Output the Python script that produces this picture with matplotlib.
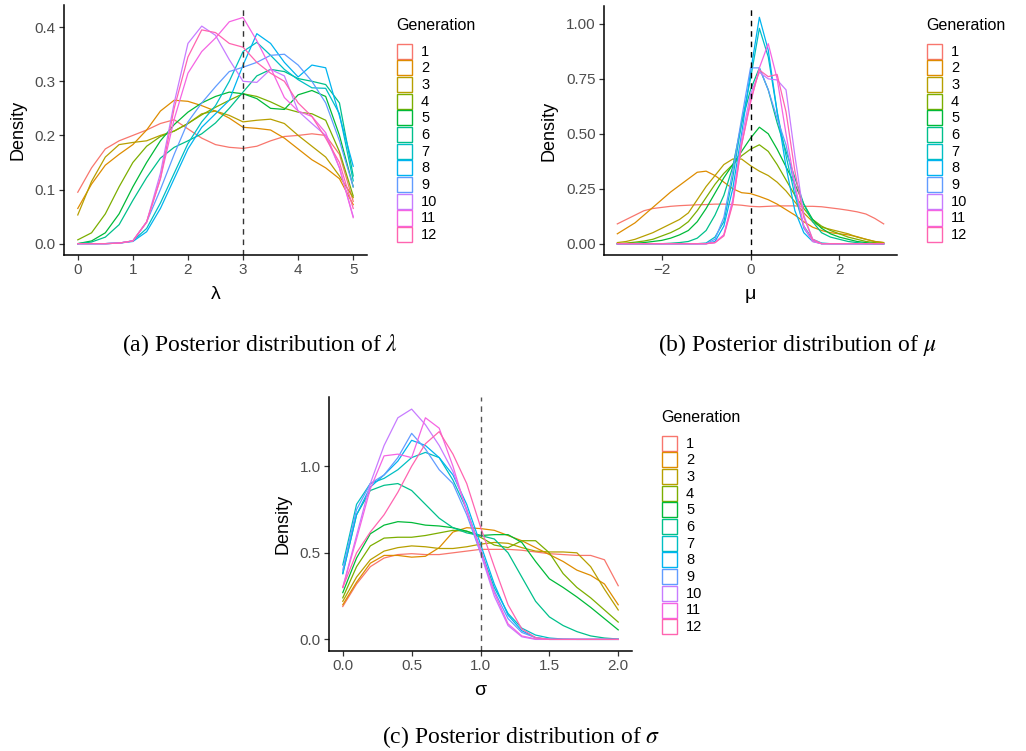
import matplotlib.pyplot as plt
import matplotlib.patches as mpatches
import numpy as np

plt.rcParams['font.family'] = ['Liberation Sans', 'DejaVu Sans']
plt.rcParams['mathtext.fontset'] = 'stix'

### generations 1..12, ggplot default hue palette
gen_labels = [str(i) for i in range(1, 13)]
gen_colors = ['#F8766D', '#DE8C00', '#B79F00', '#7CAE00', '#00BA38', '#00C08B',
              '#00BFC4', '#00B4F0', '#619CFF', '#C77CFF', '#F564E3', '#FF64B0']

### (a) lambda, grid 0..5 step 0.25
lam_x = np.linspace(0, 5, 21)
lam_dens = [
    [.095, .14, .175, .19, .2, .21, .222, .229, .212, .195, .183, .178, .176, .18, .19, .198, .2, .203, .2, .165, .078],
    [.065, .11, .145, .165, .183, .21, .245, .265, .263, .255, .245, .232, .215, .213, .21, .195, .175, .155, .14, .12, .072],
    [.053, .115, .16, .183, .187, .19, .2, .208, .222, .24, .245, .237, .225, .228, .23, .222, .2, .18, .16, .125, .085],
    [.007, .02, .055, .105, .15, .18, .198, .208, .222, .238, .252, .265, .277, .272, .262, .25, .243, .24, .228, .17, .088],
    [0, .005, .02, .055, .105, .15, .19, .22, .243, .26, .272, .28, .277, .268, .25, .248, .275, .283, .272, .2, .105],
    [0, .003, .012, .035, .08, .122, .158, .178, .19, .203, .223, .25, .28, .31, .322, .318, .305, .3, .294, .26, .125],
    [0, 0, 0, .001, .005, .028, .075, .13, .185, .225, .255, .3, .355, .372, .348, .322, .303, .288, .287, .24, .116],
    [0, 0, 0, .001, .004, .022, .065, .12, .175, .215, .24, .265, .33, .388, .37, .335, .308, .33, .325, .236, .143],
    [0, 0, 0, .001, .005, .04, .1, .165, .225, .26, .29, .318, .326, .335, .348, .35, .33, .3, .26, .19, .105],
    [0, 0, 0, .001, .005, .04, .13, .26, .37, .402, .385, .34, .3, .298, .322, .31, .245, .222, .2, .14, .05],
    [0, 0, 0, .001, .005, .04, .12, .23, .315, .355, .38, .41, .418, .375, .325, .27, .245, .235, .205, .14, .048],
    [0, 0, 0, .001, .005, .04, .12, .25, .345, .395, .39, .37, .363, .335, .315, .3, .26, .235, .195, .15, .065],
]

### (b) mu, grid -3..3 step 0.2
mu_x = np.linspace(-3, 3, 31)
mu_dens = [
    [.09, .11, .13, .15, .16, .165, .17, .173, .175, .177, .178, .18, .18, .178, .175, .17, .168, .17, .172, .172, .172, .17, .17, .168, .163, .158, .152, .145, .135, .115, .09],
    [.045, .07, .095, .13, .165, .2, .235, .265, .295, .325, .33, .31, .28, .25, .232, .228, .215, .2, .18, .155, .13, .1, .075, .06, .05, .045, .04, .032, .02, .01, .005],
    [.005, .01, .02, .035, .05, .07, .09, .11, .14, .2, .26, .31, .36, .385, .385, .355, .33, .31, .28, .24, .19, .14, .1, .075, .065, .055, .045, .03, .02, .01, .005],
    [0, .003, .007, .012, .02, .035, .05, .07, .1, .15, .21, .27, .32, .36, .4, .43, .45, .42, .36, .29, .22, .16, .11, .08, .06, .045, .03, .02, .01, .005, 0],
    [0, 0, .002, .005, .01, .015, .025, .04, .06, .1, .16, .23, .3, .36, .42, .48, .53, .5, .43, .35, .27, .18, .11, .07, .045, .03, .02, .01, .005, 0, 0],
    [0, 0, 0, 0, 0, 0, .002, .005, .01, .025, .06, .13, .22, .35, .55, .7, .8, .7, .55, .42, .3, .18, .1, .05, .03, .02, .01, .005, 0, 0, 0],
    [0, 0, 0, 0, 0, 0, 0, 0, 0, 0, .003, .03, .1, .3, .55, .75, .98, .85, .6, .4, .22, .08, .02, .003, 0, 0, 0, 0, 0, 0, 0],
    [0, 0, 0, 0, 0, 0, 0, 0, 0, 0, 0, .01, .08, .25, .5, .78, 1.03, .88, .6, .35, .15, .05, .01, 0, 0, 0, 0, 0, 0, 0, 0],
    [0, 0, 0, 0, 0, 0, 0, 0, 0, 0, 0, .02, .12, .33, .57, .8, .8, .7, .57, .45, .25, .07, .015, 0, 0, 0, 0, 0, 0, 0, 0],
    [0, 0, 0, 0, 0, 0, 0, 0, 0, 0, 0, .005, .04, .2, .48, .68, .78, .75, .745, .7, .4, .13, .02, 0, 0, 0, 0, 0, 0, 0, 0],
    [0, 0, 0, 0, 0, 0, 0, 0, 0, 0, 0, .005, .04, .19, .45, .64, .8, .91, .75, .5, .27, .08, .01, 0, 0, 0, 0, 0, 0, 0, 0],
    [0, 0, 0, 0, 0, 0, 0, 0, 0, 0, 0, .005, .035, .18, .45, .65, .79, .76, .77, .6, .33, .12, .02, 0, 0, 0, 0, 0, 0, 0, 0],
]

### (c) sigma, grid 0..2 step 0.1
sig_x = np.linspace(0, 2, 21)
sig_dens = [
    [.19, .32, .42, .47, .49, .495, .49, .49, .5, .51, .52, .52, .52, .515, .505, .495, .49, .485, .485, .46, .31],
    [.2, .33, .44, .485, .485, .475, .48, .53, .62, .645, .64, .63, .6, .57, .53, .49, .45, .4, .37, .32, .2],
    [.22, .36, .46, .51, .53, .54, .535, .525, .525, .535, .55, .56, .555, .53, .51, .505, .505, .5, .42, .29, .17],
    [.24, .42, .54, .585, .59, .59, .6, .615, .63, .625, .59, .545, .53, .57, .57, .5, .38, .3, .24, .17, .1],
    [.27, .47, .61, .66, .68, .675, .66, .655, .645, .625, .6, .605, .605, .56, .45, .35, .3, .245, .185, .12, .055],
    [.38, .72, .86, .89, .9, .86, .78, .7, .645, .615, .6, .58, .5, .36, .22, .13, .08, .045, .02, .008, .002],
    [.43, .78, .9, .93, .98, 1.05, 1.08, 1.05, .92, .75, .52, .3, .15, .065, .025, .008, .002, 0, 0, 0, 0],
    [.38, .72, .88, .95, 1.03, 1.15, 1.12, 1.05, .95, .78, .55, .32, .14, .05, .01, 0, 0, 0, 0, 0, 0],
    [.4, .75, .9, .95, 1.05, 1.19, 1.1, .98, .9, .72, .5, .28, .12, .04, .01, 0, 0, 0, 0, 0, 0],
    [.3, .6, .9, 1.12, 1.28, 1.33, 1.24, 1.12, .97, .75, .5, .25, .08, .015, 0, 0, 0, 0, 0, 0, 0],
    [.3, .58, .87, 1.06, 1.07, 1.05, 1.28, 1.22, 1.0, .74, .52, .27, .09, .02, .003, 0, 0, 0, 0, 0, 0],
    [.3, .5, .62, .72, .85, 1.0, 1.13, 1.2, 1.07, .9, .65, .42, .2, .06, .01, 0, 0, 0, 0, 0, 0],
]

W, H = 1026, 751
fig = plt.figure(figsize=(W / 100, H / 100), dpi=100)


def px_axes(l, t, r, b):
    return fig.add_axes([l / W, 1 - b / H, (r - l) / W, (b - t) / H])


def density_panel(ax, x, dens, vline, vcolor, xlim, ylim, xticks, xtl, yticks, ytl, xlabel):
    for d, c in zip(dens, gen_colors):
        ax.plot(x, d, color=c, lw=0.9, solid_joinstyle='round')
    ax.axvline(vline, color=vcolor, lw=1.0, ls=(0, (4, 3.5)))
    ax.set_xlim(xlim)
    ax.set_ylim(ylim)
    ax.set_xticks(xticks, xtl)
    ax.set_yticks(yticks, ytl)
    for s in ['top', 'right']:
        ax.spines[s].set_visible(False)
    for s in ['left', 'bottom']:
        ax.spines[s].set_linewidth(1.1)
    ax.tick_params(length=3.5, width=0.9, color='#333333', labelcolor='#4D4D4D',
                   labelsize=11, pad=2.5)
    ax.set_xlabel(xlabel, fontsize=14, labelpad=6)
    ax.set_ylabel('Density', fontsize=13, labelpad=6)


def gen_legend(x0, y0):
    fig.text(x0 / W, 1 - y0 / H, 'Generation', fontsize=11.5, va='center', ha='left')
    for i, (lab, c) in enumerate(zip(gen_labels, gen_colors)):
        top = y0 + 18.3 + i * 16.67
        fig.add_artist(mpatches.Rectangle(((x0 + 1) / W, 1 - (top + 15.5) / H), 15 / W, 15 / H,
                                          transform=fig.transFigure, facecolor='white',
                                          edgecolor=c, lw=1.0))
        fig.text((x0 + 25) / W, 1 - (top + 8.3) / H, lab, fontsize=10.5, va='center', ha='left')


ax1 = px_axes(64, 5, 367, 255)
density_panel(ax1, lam_x, lam_dens, 3, '#333333', (-0.25, 5.25), (-0.021, 0.441),
              [0, 1, 2, 3, 4, 5], ['0', '1', '2', '3', '4', '5'],
              [0, 0.1, 0.2, 0.3, 0.4], ['0.0', '0.1', '0.2', '0.3', '0.4'], 'λ')

ax2 = px_axes(604, 6, 897, 255)
density_panel(ax2, mu_x, mu_dens, 0, 'black', (-3.3, 3.3), (-0.0515, 1.0815),
              [-2, 0, 2], ['\u22122', '0', '2'],
              [0, 0.25, 0.5, 0.75, 1.0], ['0.00', '0.25', '0.50', '0.75', '1.00'], 'μ')

ax3 = px_axes(329, 397, 632, 651)
density_panel(ax3, sig_x, sig_dens, 1.0, '#555555', (-0.1, 2.1), (-0.067, 1.40),
              [0, 0.5, 1.0, 1.5, 2.0], ['0.0', '0.5', '1.0', '1.5', '2.0'],
              [0, 0.5, 1.0], ['0.0', '0.5', '1.0'], 'σ')

gen_legend(396, 25)
gen_legend(926, 25)
gen_legend(661, 417)

cap = dict(fontsize=17, family='Liberation Serif', ha='center', va='center')
fig.text(260 / W, 1 - 345 / H, r'(a) Posterior distribution of $\lambda$', **cap)
fig.text(797 / W, 1 - 345 / H, r'(b) Posterior distribution of $\mu$', **cap)
fig.text(521 / W, 1 - 737 / H, r'(c) Posterior distribution of $\sigma$', **cap)

fig.savefig('out.png', dpi=100)
